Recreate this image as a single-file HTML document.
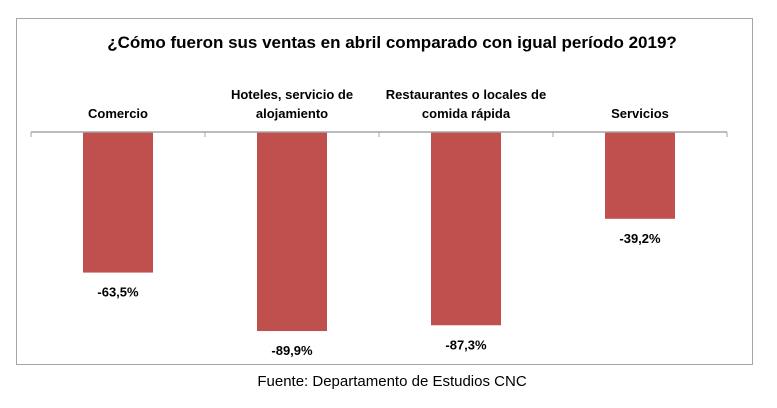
<!DOCTYPE html>
<html><head><meta charset="utf-8"><style>
body{margin:0;width:777px;height:408px;background:#fff;font-family:"Liberation Sans",sans-serif;overflow:hidden}
svg{display:block}
</style></head><body>
<svg width="777" height="408">
<rect x="16.5" y="18.5" width="736" height="346" fill="#fff" stroke="#a6a6a6"/>
<text x="392" y="48" text-anchor="middle" font-size="17" font-weight="bold" fill="#000">¿Cómo fueron sus ventas en abril comparado con igual período 2019?</text>
<g id="plot"></g>
<text x="392" y="386" text-anchor="middle" font-size="15" fill="#000">Fuente: Departamento de Estudios CNC</text>
</svg>
<script>
const categories=[["Comercio"],["Hoteles, servicio de","alojamiento"],["Restaurantes o locales de","comida rápida"],["Servicios"]];
const values=[-63.5,-89.9,-87.3,-39.2];
const valueLabels=["-63,5%","-89,9%","-87,3%","-39,2%"];
const NS="http://www.w3.org/2000/svg";
const g=document.getElementById("plot");
const x0=31,x1=727,y0=132,ppu=2.214;
const bw=(x1-x0)/categories.length;
const yScale=v=>y0-v*ppu;
function mk(t,a){const e=document.createElementNS(NS,t);for(const k in a)e.setAttribute(k,a[k]);g.appendChild(e);return e;}
values.forEach((v,i)=>{
  const cx=x0+bw*(i+0.5);
  const r=mk("rect",{x:cx-35,y:y0,width:70,height:yScale(v)-y0,fill:"#c0504d"});
  
  
  const t=mk("text",{x:cx,y:yScale(v)+24,"text-anchor":"middle","font-size":"13","font-weight":"bold"});
  t.textContent=valueLabels[i];
  
  
  const lines=categories[i];
  lines.forEach((ln,j)=>{
    const c=mk("text",{x:cx,y:y0-14-(lines.length-1-j)*19,"text-anchor":"middle","font-size":"13","font-weight":"bold"});
    c.textContent=ln;
    
    
  });
});
const ax=mk("line",{x1:x0,x2:x1,y1:y0,y2:y0,stroke:"#a6a6a6","stroke-width":"1.5"});


for(let i=0;i<=categories.length;i++){
  const tk=mk("line",{x1:x0+bw*i,x2:x0+bw*i,y1:y0,y2:y0+5,stroke:"#a6a6a6"});
  
  
}
</script>
</body></html>
